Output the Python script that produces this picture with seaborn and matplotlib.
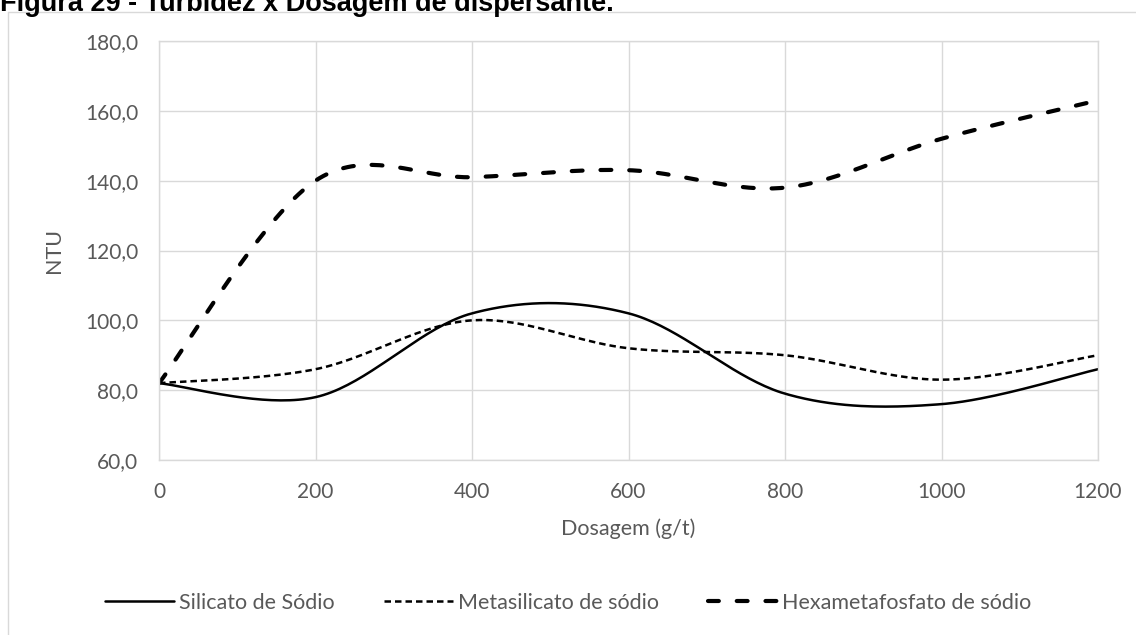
import numpy as np
import pandas as pd
import matplotlib
matplotlib.use("Agg")
import matplotlib.pyplot as plt
from matplotlib.lines import Line2D
import seaborn as sns

# ---- data ----
dosagem = [0, 200, 400, 600, 800, 1000, 1200]
silicato = [82, 78, 102, 102, 79, 76, 86]
metasilicato = [82, 86, 100, 92, 90, 83, 90]
hexameta = [82, 140, 141, 143, 138, 152, 163]
series_names = ["Silicato de Sódio", "Metasilicato de sódio", "Hexametafosfato de sódio"]
y_ticks = [60, 80, 100, 120, 140, 160, 180]
x_ticks = [0, 200, 400, 600, 800, 1000, 1200]
title = "Figura 29 - Turbidez x Dosagem de dispersante."


def excel_smooth(x, y, n=40):
    pts = np.column_stack([np.asarray(x, float), np.asarray(y, float)])
    out = []
    for i in range(len(pts) - 1):
        p0, p3 = pts[i], pts[i + 1]
        pm = pts[i - 1] if i > 0 else pts[i]
        pp = pts[i + 2] if i + 2 < len(pts) else pts[i + 1]
        p1 = p0 + (p3 - pm) / 6
        p2 = p3 - (pp - p0) / 6
        t = np.linspace(0, 1, n)[:, None]
        seg = (1 - t) ** 3 * p0 + 3 * (1 - t) ** 2 * t * p1 + 3 * (1 - t) * t ** 2 * p2 + t ** 3 * p3
        out.append(seg if i == 0 else seg[1:])
    return np.vstack(out)


sns.set_theme(style="white")
plt.rcParams["font.family"] = ["Lato", "DejaVu Sans"]

W, H = 1136, 635
fig = plt.figure(figsize=(W / 100, H / 100), dpi=100)
L, R, T, B = 159, 1098, 41, 460
ax = fig.add_axes([L / W, 1 - B / H, (R - L) / W, (B - T) / H])

grid_c = "#d9d9d9"
text_c = "#595959"

styles = [
    dict(linewidth=1.8, color="black", linestyle="-"),
    dict(linewidth=1.8, color="black", linestyle=(0, (2.6, 1.6)), dash_capstyle="butt"),
    dict(linewidth=3.0, color="black", linestyle=(0, (2.6, 4.3)), dash_capstyle="round"),
]
handles = []
for name, vals, st in zip(series_names, [silicato, metasilicato, hexameta], styles):
    sm = excel_smooth(dosagem, vals)
    df = pd.DataFrame({"x": sm[:, 0], "y": sm[:, 1]})
    sns.lineplot(data=df, x="x", y="y", ax=ax, sort=False, estimator=None, **st)
    handles.append(Line2D([], [], **st))

ax.set_xlim(0, 1200)
ax.set_ylim(60, 180)
ax.set_xticks(x_ticks)
ax.set_yticks(y_ticks)
ax.set_yticklabels([f"{v:.1f}".replace(".", ",") for v in y_ticks])
ax.set_xticklabels([str(v) for v in x_ticks])
ax.grid(True, color=grid_c, linewidth=1.0)
for s in ax.spines.values():
    s.set_color(grid_c)
    s.set_linewidth(1.0)
ax.tick_params(axis="both", length=0, labelsize=15, labelcolor=text_c)
ax.tick_params(axis="y", pad=15)
ax.tick_params(axis="x", pad=16)
ax.set_xlabel("Dosagem (g/t)", fontsize=15.5, color=text_c, labelpad=12)
ax.set_ylabel("NTU", fontsize=15.5, color=text_c, labelpad=15)

leg = fig.legend(handles, series_names, loc="center", bbox_to_anchor=(0.5, 1 - 603 / H),
                 ncol=3, frameon=False, fontsize=15.5, handlelength=3.2, handletextpad=0.22,
                 columnspacing=2.3, labelcolor=text_c)

# outer chart frame (clipped by image edges)
fig.add_artist(Line2D([8 / W, 1.01], [1 - 12 / H, 1 - 12 / H], transform=fig.transFigure,
                      color=grid_c, linewidth=1.0))
fig.add_artist(Line2D([8 / W, 8 / W], [1 - 12 / H, -0.01], transform=fig.transFigure,
                      color=grid_c, linewidth=1.0))

fig.text(0 / W, 1 - 11 / H, title, fontsize=19.5, fontweight="bold",
         family=["Liberation Sans", "DejaVu Sans"], color="black", va="baseline", ha="left")

fig.savefig("out.png", dpi=100)
